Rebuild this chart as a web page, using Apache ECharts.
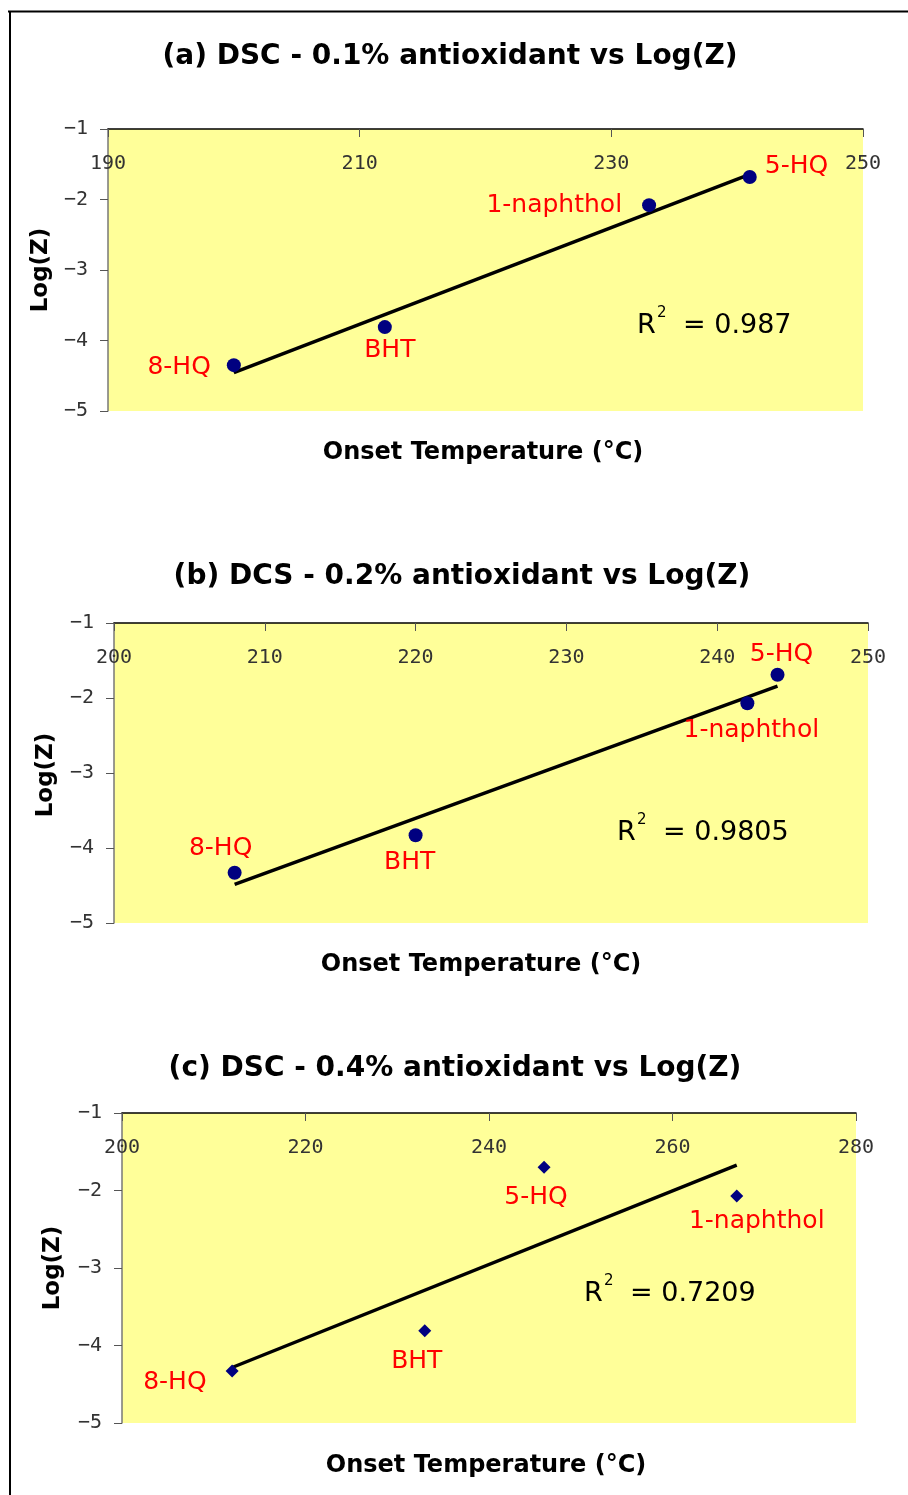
<!DOCTYPE html>
<html>
<head>
<meta charset="utf-8">
<title>DSC antioxidant vs Log(Z)</title>
<script src="https://cdn.jsdelivr.net/npm/echarts@6/dist/echarts.min.js"></script>
<style>
    html, body { margin: 0; padding: 0; background: #fff; }
    #chart { width: 908px; height: 1495px; }
</style>
</head>
<body>
<div id="chart"></div>
<script>
// data
const titles = [
    '(a) DSC - 0.1% antioxidant vs Log(Z)',
    '(b) DCS - 0.2% antioxidant vs Log(Z)',
    '(c) DSC - 0.4% antioxidant vs Log(Z)'
];
const xName = 'Onset Temperature (°C)';
const yName = 'Log(Z)';
const r2Values = ['0.987', '0.9805', '0.7209'];

const namesA = ['8-HQ', 'BHT', '1-naphthol', '5-HQ'];
const xA = [200, 212, 233, 241];
const yA = [-4.35, -3.81, -2.08, -1.68];

const namesB = ['8-HQ', 'BHT', '1-naphthol', '5-HQ'];
const xB = [208, 220, 242, 244];
const yB = [-4.33, -3.83, -2.07, -1.69];

const namesC = ['8-HQ', 'BHT', '5-HQ', '1-naphthol'];
const xC = [212, 233, 246, 267];
const yC = [-4.33, -3.81, -1.70, -2.07];

// x axis ranges [min, max, interval], y axis range
const xRanges = [[190, 250, 20], [200, 250, 10], [200, 280, 20]];
const yRange = [-5, -1, 1];

// least squares trendline between the smallest and largest x
function trend(xs, ys) {
    const n = xs.length;
    let mx = 0, my = 0;
    for (let i = 0; i < n; i++) { mx += xs[i]; my += ys[i]; }
    mx /= n; my /= n;
    let sxy = 0, sxx = 0;
    for (let i = 0; i < n; i++) {
        sxy += (xs[i] - mx) * (ys[i] - my);
        sxx += (xs[i] - mx) * (xs[i] - mx);
    }
    const k = sxy / sxx;
    const x0 = Math.min(...xs), x1 = Math.max(...xs);
    return [[x0, my + k * (x0 - mx)], [x1, my + k * (x1 - mx)]];
}

const labelFont = { fontFamily: 'DejaVu Sans', fontSize: 25, color: '#ff0000' };

// label placement for each point
const labA = [
    { position: 'left', distance: 16, offset: [0, 2] },
    { position: 'bottom', distance: 4, offset: [5, 0] },
    { position: 'left', distance: 20, offset: [0, 0] },
    { position: 'right', distance: 8, offset: [0, -10] }
];
const labB = [
    { position: 'top', distance: 5, offset: [-14, 0] },
    { position: 'bottom', distance: 8, offset: [-6, 0] },
    { position: 'bottom', distance: 8, offset: [4, 0] },
    { position: 'top', distance: 1, offset: [4, 0] }
];
const labC = [
    { position: 'left', distance: 19, offset: [0, 11] },
    { position: 'bottom', distance: 12, offset: [-8, 0] },
    { position: 'bottom', distance: 11, offset: [-8, 0] },
    { position: 'bottom', distance: 7, offset: [20, 0] }
];

function points(names, xs, ys, labs) {
    return names.map((n, i) => ({
        name: n,
        value: [xs[i], ys[i]],
        label: Object.assign({ show: true, formatter: n }, labelFont, labs[i])
    }));
}

const grids = [
    { left: 108, top: 129, right: 45, height: 282 },
    { left: 114, top: 623, right: 40, height: 300 },
    { left: 122, top: 1113, right: 52, height: 310 }
];

const tickFont = { fontFamily: 'DejaVu Sans Mono', fontSize: 20, color: '#333' };

const xAxes = xRanges.map((r, i) => ({
    type: 'value',
    gridIndex: i,
    position: 'top',
    min: r[0], max: r[1], interval: r[2],
    axisLine: { lineStyle: { color: '#000', width: 1.5 } },
    axisTick: { inside: true, length: 8, lineStyle: { color: '#555' } },
    axisLabel: Object.assign({ inside: true, margin: 25, showMinLabel: true, showMaxLabel: true }, tickFont),
    splitLine: { show: false }
}));

const yAxes = grids.map((g, i) => ({
    type: 'value',
    gridIndex: i,
    min: yRange[0], max: yRange[1], interval: yRange[2],
    axisLine: { show: true, lineStyle: { color: '#777', width: 1.5 } },
    axisTick: { show: true, length: 8, lineStyle: { color: '#555' } },
    axisLabel: Object.assign({ margin: 20, formatter: v => String(v).replace('-', '\u2212') }, tickFont),
    splitLine: { show: false }
}));

const sets = [
    [namesA, xA, yA, labA, 'circle', 14],
    [namesB, xB, yB, labB, 'circle', 14],
    [namesC, xC, yC, labC, 'diamond', 13]
];

const series = [];
sets.forEach((s, i) => {
    series.push({
        type: 'line',
        xAxisIndex: i, yAxisIndex: i,
        data: trend(s[1], s[2]),
        symbol: 'none',
        lineStyle: { color: '#000', width: 3.5 },
        z: 2,
        silent: true
    });
    series.push({
        type: 'scatter',
        xAxisIndex: i, yAxisIndex: i,
        symbol: s[4],
        symbolSize: s[5],
        itemStyle: { color: '#000080', opacity: 1 },
        data: points(s[0], s[1], s[2], s[3]),
        z: 3
    });
});

// text positions
const titlePos = [[450, 57], [462, 577], [455, 1069]];
const xNamePos = [[483, 453], [481, 965], [486, 1466]];
const yNamePos = [[41, 270], [46, 775], [53, 1268]];
const r2Pos = [[637, 326], [617, 833], [584, 1294]];

const graphic = [
    { type: 'line', shape: { x1: 8, y1: 11.5, x2: 908, y2: 11.5 }, style: { stroke: '#000', lineWidth: 2 } },
    { type: 'line', shape: { x1: 10, y1: 11, x2: 10, y2: 1495 }, style: { stroke: '#000', lineWidth: 2 } }
];
titles.forEach((t, i) => {
    graphic.push({
        type: 'text', x: titlePos[i][0], y: titlePos[i][1],
        style: { text: t, font: 'bold 28px "DejaVu Sans"', fill: '#000', textAlign: 'center', textVerticalAlign: 'middle' }
    });
    graphic.push({
        type: 'text', x: xNamePos[i][0], y: xNamePos[i][1],
        style: { text: xName, font: 'bold 24px "DejaVu Sans"', fill: '#000', textAlign: 'center', textVerticalAlign: 'middle' }
    });
    graphic.push({
        type: 'text', x: yNamePos[i][0], y: yNamePos[i][1], rotation: Math.PI / 2,
        style: { text: yName, font: 'bold 23px "DejaVu Sans"', fill: '#000', textAlign: 'center', textVerticalAlign: 'middle' }
    });
    const [rx, ry] = r2Pos[i];
    graphic.push({
        type: 'text', x: rx, y: ry,
        style: { text: 'R', font: '27px "DejaVu Sans"', fill: '#000', textAlign: 'left', textVerticalAlign: 'middle' }
    });
    graphic.push({
        type: 'text', x: rx + 20, y: ry - 13,
        style: { text: '2', font: '15px "DejaVu Sans"', fill: '#000', textAlign: 'left', textVerticalAlign: 'middle' }
    });
    graphic.push({
        type: 'text', x: rx + 46, y: ry,
        style: { text: '= ' + r2Values[i], font: '27px "DejaVu Sans"', fill: '#000', textAlign: 'left', textVerticalAlign: 'middle' }
    });
});

const chart = echarts.init(document.getElementById('chart'));
chart.setOption({
    backgroundColor: '#fff',
    animation: false,
    grid: grids.map(g => Object.assign({ show: true, backgroundColor: '#ffff99', borderWidth: 0 }, g)),
    xAxis: xAxes,
    yAxis: yAxes,
    series: series,
    graphic: graphic
});
</script>
</body>
</html>
